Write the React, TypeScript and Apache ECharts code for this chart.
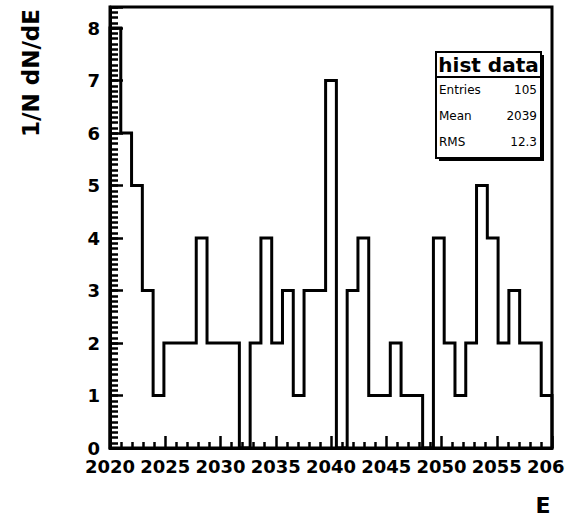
import React, { useEffect, useRef } from "react";
import * as echarts from "echarts";

// Histogram "hist data": 41 bins from 2020 to 2060
const xMin = 2020;
const xMax = 2060;
const binCounts = [
  8, 6, 5, 3, 1, 2, 2, 2, 4, 2, 2, 2, 0, 2, 4, 2, 3, 1, 3, 3, 7,
  0, 3, 4, 1, 1, 2, 1, 1, 0, 4, 2, 1, 2, 5, 4, 2, 3, 2, 2, 1,
];
const yMax = 8.4;
const xAxisTitle = "E";
const yAxisTitle = "1/N dN/dE";
const statsTitle = "hist data";
const statsLabels = ["Entries", "Mean", "RMS"];
const statsValues = ["105", "2039", "12.3"];

const FONT = "'DejaVu Sans', 'Liberation Sans', sans-serif";

function buildOption(): echarts.EChartsOption {
  const w = (xMax - xMin) / binCounts.length;
  const pts: number[][] = [[xMin, 0]];
  binCounts.forEach((c, i) => {
    pts.push([xMin + i * w, c]);
    pts.push([xMin + (i + 1) * w, c]);
  });
  pts.push([xMax, 0]);

  const boxX = 436;
  const boxY = 52;
  const boxW = 105;
  const boxH = 106;
  const rowY = [90, 116, 142];

  const graphics: any[] = [
    {
      type: "rect",
      shape: { x: boxX + 3, y: boxY + 3, width: boxW, height: boxH },
      style: { fill: "#000" },
      z: 10,
    },
    {
      type: "rect",
      shape: { x: boxX, y: boxY, width: boxW, height: boxH },
      style: { fill: "#fff", stroke: "#000", lineWidth: 2 },
      z: 11,
    },
    {
      type: "line",
      shape: { x1: boxX, y1: boxY + 25, x2: boxX + boxW, y2: boxY + 25 },
      style: { stroke: "#000", lineWidth: 2 },
      z: 12,
    },
    {
      type: "text",
      x: boxX + boxW / 2,
      y: boxY + 13,
      style: {
        text: statsTitle,
        font: `bold 20px ${FONT}`,
        fill: "#000",
        align: "center",
        verticalAlign: "middle",
      },
      z: 12,
    },
    {
      type: "text",
      x: 31,
      y: 9,
      rotation: Math.PI / 2,
      style: {
        text: yAxisTitle,
        font: `bold 23px ${FONT}`,
        fill: "#000",
        align: "right",
        verticalAlign: "middle",
      },
    },
    {
      type: "text",
      x: 543,
      y: 505,
      style: {
        text: xAxisTitle,
        font: `bold 22px ${FONT}`,
        fill: "#000",
        align: "center",
        verticalAlign: "middle",
      },
    },
  ];
  statsLabels.forEach((lab, i) => {
    graphics.push({
      type: "text",
      x: boxX + 3,
      y: rowY[i],
      style: {
        text: lab,
        font: `12px ${FONT}`,
        fill: "#000",
        align: "left",
        verticalAlign: "middle",
      },
      z: 12,
    });
    graphics.push({
      type: "text",
      x: boxX + boxW - 4,
      y: rowY[i],
      style: {
        text: statsValues[i],
        font: `12px ${FONT}`,
        fill: "#000",
        align: "right",
        verticalAlign: "middle",
      },
      z: 12,
    });
  });

  return {
    animation: false,
    backgroundColor: "#fff",
    grid: {
      left: 110,
      right: 13,
      top: 7,
      bottom: 74,
      outerBoundsMode: "none",
      containLabel: false,
      show: true,
      borderColor: "#000",
      borderWidth: 3,
      backgroundColor: "transparent",
    } as any,
    xAxis: {
      type: "value",
      min: xMin,
      max: xMax,
      interval: 5,
      axisLine: { show: true, onZero: false, lineStyle: { color: "#000", width: 3 } },
      axisTick: { show: true, inside: true, length: 12, lineStyle: { color: "#000", width: 2.5 } },
      minorTick: { show: true, splitNumber: 5, length: 6, lineStyle: { color: "#000", width: 2.5 } },
      splitLine: { show: false },
      minorSplitLine: { show: false },
      axisLabel: {
        color: "#000",
        fontFamily: FONT,
        fontWeight: "bold",
        fontSize: 18,
        margin: 9,
        formatter: (v: number) => String(v),
      },
    },
    yAxis: [
      {
        type: "value",
        min: 0,
        max: yMax,
        interval: 1,
        position: "left",
        axisLine: { show: true, lineStyle: { color: "#000", width: 3 } },
        axisTick: { show: true, inside: true, length: 13, lineStyle: { color: "#000", width: 2.5 } },
        splitLine: { show: false },
        showMaxLabel: false,
        axisLabel: {
          color: "#000",
          fontFamily: FONT,
          fontWeight: "bold",
          fontSize: 18,
          margin: 10,
          formatter: (v: number) => (Number.isInteger(v) ? String(v) : ""),
        },
      },
      {
        type: "value",
        min: 0,
        max: yMax,
        interval: 0.1,
        position: "left",
        axisLine: { show: false },
        axisTick: { show: true, inside: true, length: 8, lineStyle: { color: "#000", width: 2.5 } },
        splitLine: { show: false },
        axisLabel: { show: false },
      },
    ],
    graphic: graphics,
    series: [
      {
        type: "line",
        data: pts,
        yAxisIndex: 0,
        symbol: "none",
        clip: false,
        lineStyle: { color: "#000", width: 3, join: "miter", cap: "butt" },
        z: 5,
      },
    ],
  };
}

export default function App() {
  const ref = useRef<HTMLDivElement>(null);
  useEffect(() => {
    if (!ref.current) return;
    const chart = echarts.init(ref.current, undefined, { renderer: "svg" });
    chart.setOption(buildOption());
    return () => chart.dispose();
  }, []);
  return (
    <div
      ref={ref}
      style={{ position: "fixed", left: 0, top: 0, width: 565, height: 522, background: "#fff" }}
    />
  );
}
